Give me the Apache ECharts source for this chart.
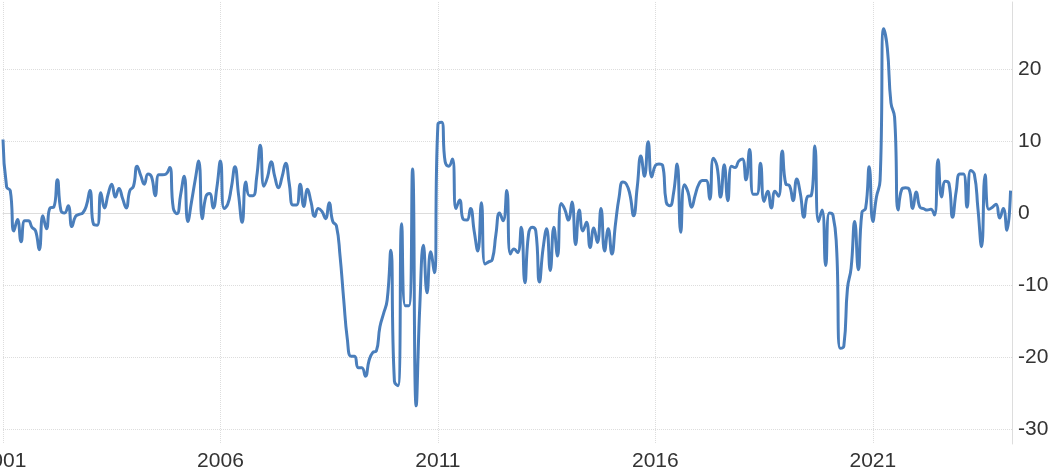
<!DOCTYPE html>
<html>
<head>
<meta charset="utf-8">
<script src="https://cdn.jsdelivr.net/npm/echarts@6/dist/echarts.min.js"></script>
<style>
html,body{margin:0;padding:0;background:#ffffff;}
#chart{width:1062px;height:476px;}
</style>
</head>
<body>
<div id="chart"></div>
<script>
// Monthly series starting January 2001
const startYear = 2001;
const values = [
  10.2, 3.6, 3.1, -2.5, -0.9, -4.0, -1.1, -1.1, -2.0, -2.5, -5.1, -0.4,
  -2.2, 0.7, 0.8, 4.6, 0.3, 0.0, 1.0, -1.9, -0.5, -0.2, 0.0, 1.0,
  3.1, -1.6, -1.7, 2.8, 0.7, 2.6, 4.0, 2.2, 3.4, 2.0, 0.7, 3.1,
  3.7, 6.5, 5.2, 4.0, 5.4, 5.0, 2.4, 5.3, 5.3, 5.4, 6.3, 0.6,
  -0.1, 2.5, 5.1, -1.2, 1.5, 4.5, 7.2, -0.8, 2.3, 2.7, 0.7, 3.5,
  7.2, 0.6, 1.2, 3.5, 6.4, 2.5, -1.3, 4.3, 2.4, 2.4, 5.0, 9.4,
  3.7, 5.0, 7.1, 5.0, 3.5, 5.0, 6.9, 4.0, 1.1, 1.1, 4.0, 0.9,
  3.3, 1.5, -0.5, 0.6, 0.2, -0.8, 1.4, -1.2, -1.8, -6.0, -12.0, -17.5,
  -19.9, -19.9, -21.5, -21.5, -22.7, -20.5, -19.4, -19.2, -15.8, -14.0, -12.1, -5.2,
  -23.4, -24.0, -1.5, -12.9, -12.9, 6.1, -26.8, -13.0, -4.5, -11.1, -5.4, -8.3,
  12.3, 12.6, 7.1, 6.5, 7.5, 0.6, 1.8, -0.9, -1.0, 0.6, -2.5, -5.3,
  1.4, -7.1, -6.8, -6.5, -3.0, 0.0, -1.1, 3.1, -5.7, -5.0, -5.5, -2.0,
  -9.7, -3.0, -2.0, -2.5, -9.6, -5.0, -2.2, -8.0, -2.0, -6.0, 1.3, 0.5,
  -1.0, 1.5, -4.4, 0.4, -2.5, -1.3, -4.8, -2.1, -4.1, 0.6, -5.3, -2.2,
  -5.7, -1.5, 2.2, 4.3, 4.0, 2.5, -0.4, 3.6, 7.9, 5.1, 9.9, 5.0,
  6.6, 6.8, 6.6, 1.5, 1.0, 2.7, 6.8, -2.7, 3.9, 2.9, 0.8, 2.5,
  4.0, 4.5, 4.5, 1.9, 7.6, 6.5, 2.2, 6.7, 1.7, 6.5, 6.3, 7.2,
  7.5, 4.6, 8.8, 2.6, 2.6, 6.9, 1.6, 3.0, 0.7, 3.0, 2.3, 8.6,
  4.0, 3.8, 1.7, 4.7, 2.7, -0.6, 2.3, 2.4, 9.3, -1.2, 0.4, -7.3,
  0.0, -0.3, -4.9, -18.8, -18.5, -10.5, -7.7, -1.2, -7.9, 0.1, 0.6, 6.4,
  -1.2, 2.2, 4.5, 25.6, 22.9, 15.3, 13.3, 0.4, 3.3, 3.5, 3.3, 0.6,
  2.9, 0.8, 0.6, 0.4, 0.5, -0.3, 7.4, 2.2, 4.4, 4.1, -0.6, 3.0,
  5.4, 5.4, 0.8, 5.9, 5.4, 0.6, -4.7, 5.3, 0.5, 0.8, 1.2, -0.7,
  0.6, -2.4, 3.1
];
const xTickYears = [2001, 2006, 2011, 2016, 2021];
const yTickValues = [-30, -20, -10, 0, 10, 20];

const points = values.map((v, i) => [startYear + i / 12, v]);

const chart = echarts.init(document.getElementById('chart'), null, {renderer: 'canvas'});
const labelFont = {fontFamily: 'Liberation Sans, Arial, sans-serif', fontSize: 21, color: '#333333'};

chart.setOption({
  animation: false,
  backgroundColor: '#ffffff',
  grid: {left: 3, right: 50, top: 2, bottom: 32, containLabel: false, outerBoundsMode: 'none'},
  xAxis: {
    type: 'value',
    min: 2001,
    max: 2024.2,
    interval: 5,
    axisLine: {show: true, lineStyle: {color: '#dddddd', width: 1}},
    axisTick: {show: false, customValues: xTickYears},
    axisLabel: Object.assign({
      customValues: xTickYears,
      margin: 7,
      hideOverlap: false,
      showMinLabel: true,
      showMaxLabel: true,
      formatter: v => String(Math.round(v))
    }, labelFont),
    splitLine: {show: true, lineStyle: {color: '#dddddd', type: 'dotted', width: 1}}
  },
  yAxis: {
    type: 'value',
    position: 'right',
    min: -32.1,
    max: 29.3,
    axisLine: {show: true, lineStyle: {color: '#dddddd', width: 1}},
    axisTick: {show: false, customValues: yTickValues},
    axisLabel: Object.assign({
      customValues: yTickValues,
      margin: 6,
      hideOverlap: false,
      showMinLabel: true,
      showMaxLabel: true,
      formatter: v => String(Math.round(v))
    }, labelFont),
    splitLine: {show: true, lineStyle: {color: '#dddddd', type: 'dotted', width: 1}}
  },
  series: [{
    type: 'line',
    data: points,
    smooth: 0.5,
    showSymbol: false,
    symbol: 'none',
    lineStyle: {color: '#4a7ebb', width: 3},
    clip: true
  }]
});
</script>
</body>
</html>
